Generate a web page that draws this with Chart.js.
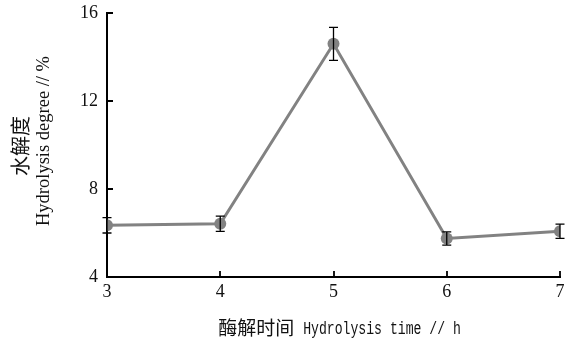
<!DOCTYPE html>
<html>
<head>
<meta charset="utf-8">
<script src="https://cdn.jsdelivr.net/npm/chart.js@4/dist/chart.umd.min.js"></script>
<style>
  html, body { margin: 0; padding: 0; background: #fff; }
  #wrap { width: 578px; height: 341px; position: relative; }
</style>
</head>
<body>
<div id="wrap"><canvas id="c" width="578" height="341"></canvas></div>
<script>
// Hydrolysis time (h) and degree of hydrolysis (%) with standard deviation
const hours = [3, 4, 5, 6, 7];
const degree = [6.35, 6.42, 14.6, 5.75, 6.08];
const errors = [0.35, 0.35, 0.75, 0.3, 0.32];
const yTicks = [4, 8, 12, 16];

const xTitleCn = '酶解时间';
const xTitleEn = 'Hydrolysis time // h';
const yTitleCn = '水解度';
const yTitleEn = 'Hydrolysis degree // %';

const serif = "'Liberation Serif', 'Times New Roman', serif";
const cjk = "'Noto Sans CJK SC', sans-serif";
const monoScale = 0.73;

// Inward tick marks on both axes, vertical error bars with caps, bilingual axis titles
const axisDecor = {
  id: 'axisDecor',
  afterDatasetsDraw(chart) {
    const { ctx, scales: { x, y }, chartArea: a } = chart;
    ctx.save();
    ctx.strokeStyle = '#000';
    ctx.lineWidth = 1.8;
    ctx.beginPath();
    hours.slice(1).forEach(h => {
      const px = Math.round(x.getPixelForValue(h));
      ctx.moveTo(px, a.bottom); ctx.lineTo(px, a.bottom - 6);
    });
    yTicks.slice(1).forEach(v => {
      const py = Math.round(y.getPixelForValue(v));
      ctx.moveTo(a.left, py); ctx.lineTo(a.left + 6, py);
    });
    ctx.stroke();

    ctx.lineWidth = 1.3;
    hours.forEach((h, i) => {
      const px = x.getPixelForValue(h);
      const top = y.getPixelForValue(degree[i] + errors[i]);
      const bot = y.getPixelForValue(degree[i] - errors[i]);
      ctx.beginPath();
      ctx.moveTo(px, top); ctx.lineTo(px, bot);
      ctx.moveTo(px - 4.5, top); ctx.lineTo(px + 4.5, top);
      ctx.moveTo(px - 4.5, bot); ctx.lineTo(px + 4.5, bot);
      ctx.stroke();
    });

    // x-axis title: Chinese part then condensed monospace English part
    ctx.fillStyle = '#111';
    ctx.textBaseline = 'middle';
    ctx.textAlign = 'left';
    const ty = a.bottom + 51;
    ctx.font = '19px ' + cjk;
    const cnW = ctx.measureText(xTitleCn).width;
    ctx.font = "18px 'Liberation Mono', monospace";
    const enW = ctx.measureText(xTitleEn).width * monoScale;
    const gap = 9;
    const tx = (a.left + a.right) / 2 + 6 - (cnW + gap + enW) / 2;
    ctx.font = '19px ' + cjk;
    ctx.fillText(xTitleCn, tx, ty);
    ctx.save();
    ctx.translate(tx + cnW + gap, ty);
    ctx.scale(monoScale, 1);
    ctx.font = "18px 'Liberation Mono', monospace";
    ctx.fillText(xTitleEn, 0, 1);
    ctx.restore();

    // y-axis title: two rotated lines
    const cy = (a.top + a.bottom) / 2;
    ctx.save();
    ctx.translate(20, cy + 1);
    ctx.rotate(-Math.PI / 2);
    ctx.textAlign = 'center';
    ctx.font = '20px ' + cjk;
    ctx.fillText(yTitleCn, 0, 0);
    ctx.restore();
    ctx.save();
    ctx.translate(44, cy - 4);
    ctx.rotate(-Math.PI / 2);
    ctx.textAlign = 'center';
    ctx.font = '18.5px ' + serif;
    ctx.fillText(yTitleEn, 0, 0);
    ctx.restore();
    ctx.restore();
  }
};

new Chart(document.getElementById('c'), {
  type: 'line',
  data: {
    datasets: [{
      data: hours.map((h, i) => ({ x: h, y: degree[i] })),
      borderColor: '#828282',
      backgroundColor: '#828282',
      borderWidth: 3,
      pointRadius: 6,
      pointHoverRadius: 6,
      pointBorderWidth: 0,
      tension: 0
    }]
  },
  options: {
    responsive: false,
    animation: false,
    layout: { padding: { top: 13, right: 18, left: 0, bottom: 0 } },
    plugins: { legend: { display: false }, tooltip: { enabled: false } },
    scales: {
      x: {
        type: 'linear',
        min: 3, max: 7,
        border: { color: '#000', width: 2 },
        grid: { display: false, drawTicks: false },
        ticks: { stepSize: 1, color: '#111', font: { family: serif, size: 18 }, padding: 4 },
        afterFit(s) { s.height = 64; s.paddingLeft = 0; s.paddingRight = 0; }
      },
      y: {
        min: 4, max: 16,
        border: { color: '#000', width: 2 },
        grid: { display: false, drawTicks: false },
        afterBuildTicks(s) { s.ticks = yTicks.map(v => ({ value: v })); },
        ticks: { color: '#111', font: { family: serif, size: 18 }, padding: 9 },
        afterFit(s) { s.width = 107; s.paddingTop = 0; s.paddingBottom = 0; }
      }
    }
  },
  plugins: [axisDecor]
});
</script>
</body>
</html>
